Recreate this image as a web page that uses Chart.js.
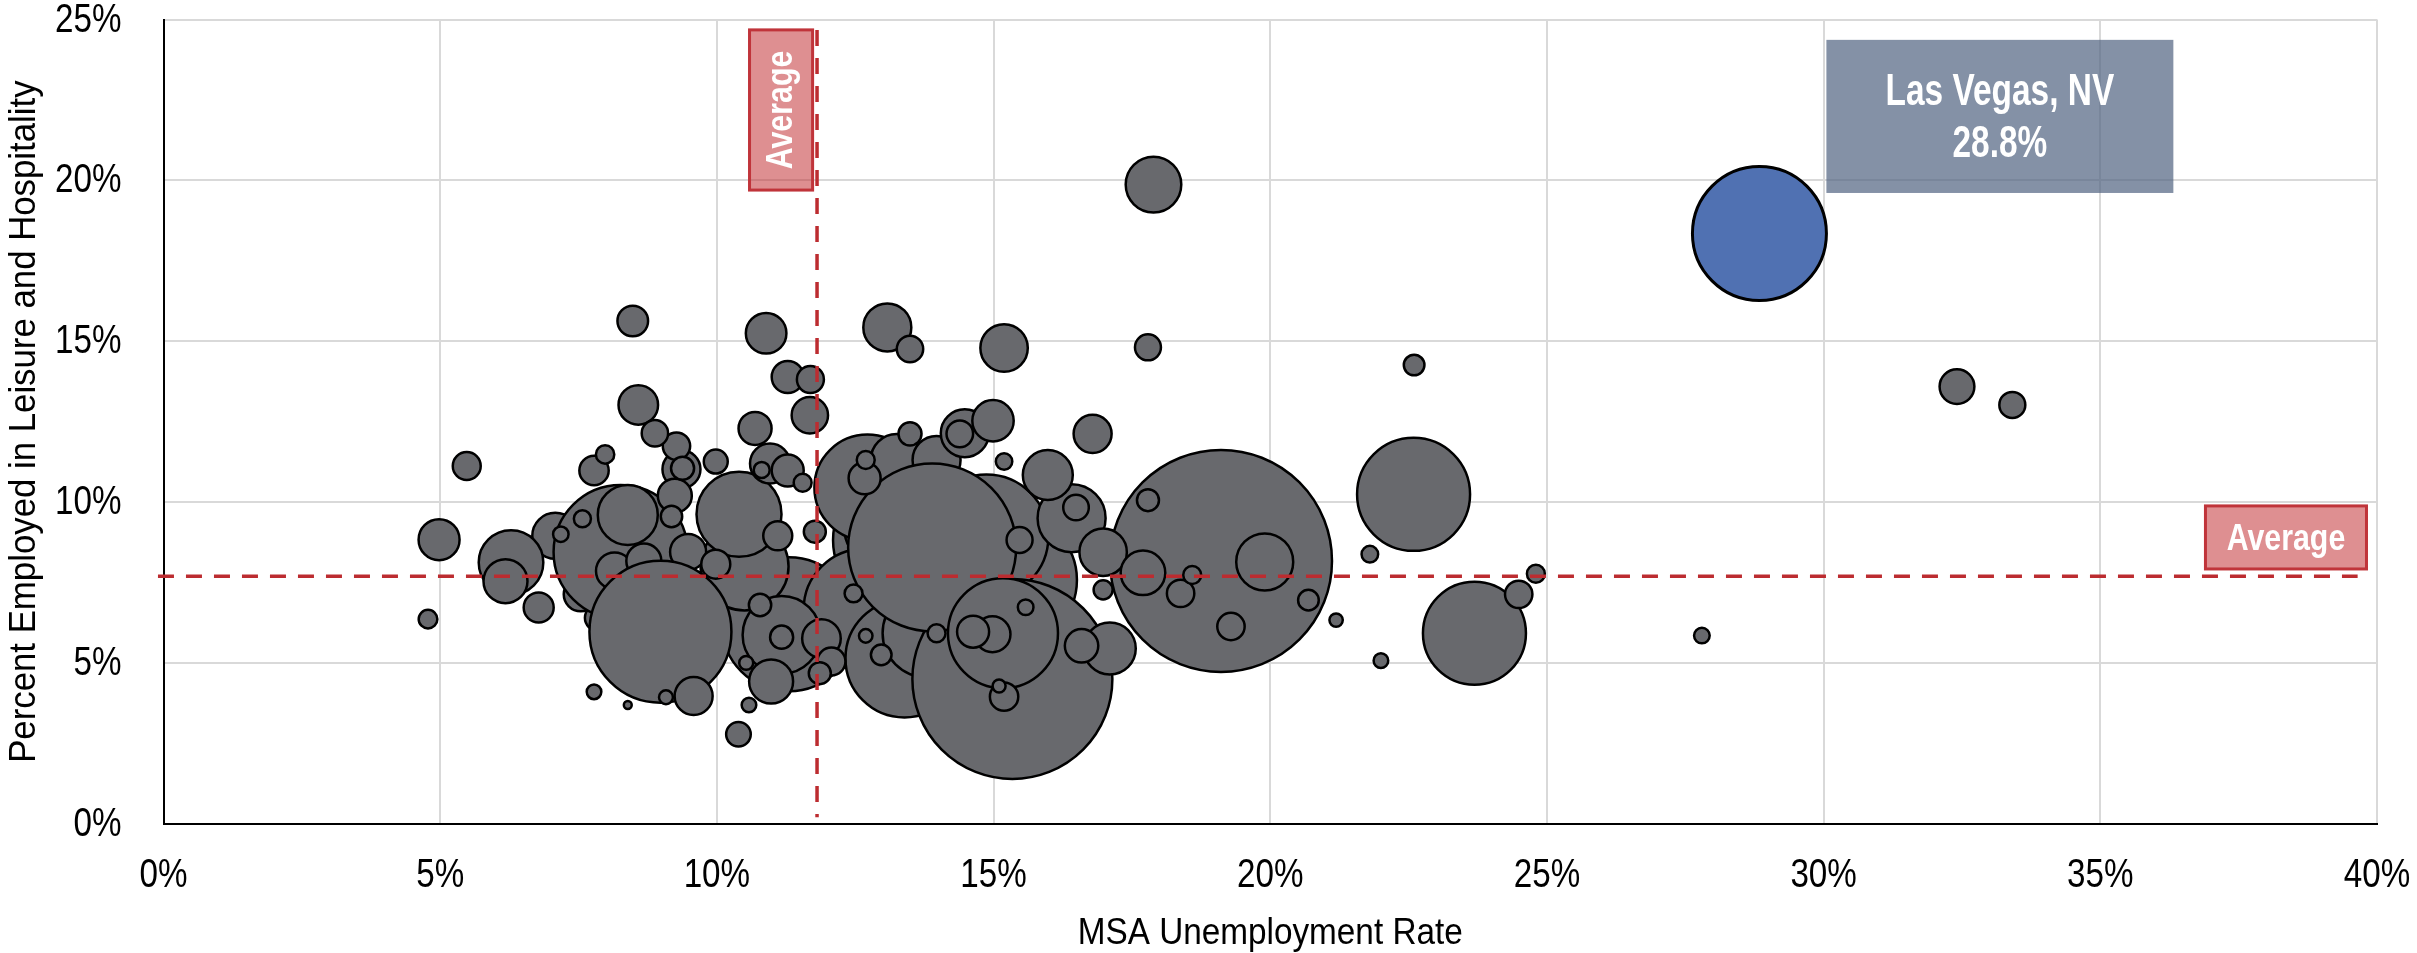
<!DOCTYPE html>
<html><head><meta charset="utf-8">
<script src="https://cdn.jsdelivr.net/npm/chart.js@4.4.1/dist/chart.umd.min.js"></script>
<style>html,body{margin:0;padding:0;background:#fff;}#wrap{width:2417px;height:953px;position:relative;}</style>
</head><body><div id="wrap"><canvas id="c" width="2417" height="953"></canvas></div>
<script>
// ---- data (MSA unemployment %, % employed in leisure & hospitality, employment in thousands) ----
const unemploymentRate = [19.11,11.3,10.5,15.35,14.87,13.31,13.35,12.72,13.25,13.97,12.67,13.39,13.79,15.34,13.89,15.17,
 7.54,7.85,7.08,8.26,8.15,8.68,9.48,8.98,9.58,
 22.59,23.69,10.40,11.17,16.41,6.28,8.39,19.9,17.89,17.1,15.98,13.08,14.48,15.19,16.98,17.7,6.18,10.98,14.99,4.98,10.89,10.96,8.58,11.89,16.79,9.36,11.68,14.98,32.41,9.24,16.59,10.69,11.28,11.28,12.67,14.63,8.48,6.78,7.78,9.98,11.1,15.19,5.48,12.07,19.29,18.38,24.49,9.27,11.69,14.39,8.88,13.49,17.79,33.41,15.47,16.49,10.39,9.98,13.49,9.38,11.17,10.78,11.77,17.79,11.86,9.18,22.6,20.69,12.97,16.98,4.78,7.98,24.80,18.59,12.47,12.69,13.97,11.55,7.57,21.80,15.19,10.81,27.80,15.58,7.18,22.0,7.78,10.58,9.08,10.53,12.69,21.19,15.1,8.39];
const leisureShare = [8.17,6.2,8.0,7.58,8.93,8.82,9.4,10.45,11.31,11.31,6.65,5.14,5.92,4.5,8.59,5.92,
 7.13,6.4,8.95,8.45,7.86,8.17,8.45,5.97,3.97,
 10.24,5.92,9.62,5.87,9.5,8.12,9.6,8.14,19.87,5.45,10.84,15.43,12.14,14.79,8.44,7.8,7.54,4.42,12.53,8.83,15.25,11.2,13.02,5.76,12.12,11.02,12.7,5.89,13.59,10.2,5.53,12.29,13.89,10.98,10.74,5.97,15.63,6.72,10.98,8.07,8.95,3.95,11.12,5.04,6.13,7.16,7.13,11.74,13.81,12.12,12.14,14.76,14.81,13.02,8.82,9.83,2.78,11.26,12.12,11.05,5.8,6.8,9.08,10.06,4.68,9.55,14.26,6.95,5.25,7.27,6.36,11.48,7.77,7.73,7.16,11.31,5.92,10.6,9.48,8.38,11.26,11.0,5.85,6.73,9.0,5.07,4.1,3.69,3.93,5.0,5.84,6.33,4.28,3.69];
const employment = [8711,3211,1406,2934,2756,3211,2500,2025,506,434,2669,2500,1406,7084,5017,2178,
 225,136,400,3211,264,238,251,3600,278,
 2296,1914,1314,1111,851,770,667,604,576,506,469,434,434,424,424,377,367,367,327,321,315,306,300,286,278,278,256,251,235,225,218,213,201,201,201,201,185,178,171,167,167,160,156,156,150,150,150,150,146,142,140,140,136,136,136,132,123,117,109,109,109,103,100,100,100,95,89,89,89,77,74,72,69,69,69,69,69,69,63,60,59,56,54,54,53,48,48,48,44,44,42,41,39,17];

const vegasUnemployment = [28.84];
const vegasLeisure = [18.35];
const vegasEmployment = [3211];
const vegasLabel = ['Las Vegas, NV', '28.8%'];

const xTickValues = [0,5,10,15,20,25,30,35,40];
const yTickValues = [0,5,10,15,20,25];
const xTitle = 'MSA Unemployment Rate';
const yTitle = 'Percent Employed in Leisure and Hospitality';
const averageUnemployment = 11.81;
const averageLeisure = 7.69;

// ---- styling ----
const FONT = "'Liberation Sans', Arial, sans-serif";
const RED = '#BC2C30';
const radiusFor = v => Math.sqrt(v) * 1.2 - 1;

const points = unemploymentRate.map((u, i) => ({x: u, y: leisureShare[i], r: radiusFor(employment[i])}));
const vegasPoints = vegasUnemployment.map((u, i) => ({x: u, y: vegasLeisure[i], r: radiusFor(vegasEmployment[i])}));

// draw text horizontally condensed (narrow face look)
function narrowText(ctx, text, x, y, font, sx, align, baseline, rot) {
  ctx.save();
  ctx.translate(x, y);
  if (rot) ctx.rotate(rot);
  ctx.scale(sx, 1);
  ctx.font = font; ctx.textAlign = align; ctx.textBaseline = baseline;
  ctx.fillText(text, 0, 0);
  ctx.restore();
}

const axisText = {
  id: 'axisText',
  afterDraw(chart) {
    const {ctx, chartArea: a, scales: {x, y}} = chart;
    ctx.save();
    ctx.fillStyle = '#000';
    x.ticks.forEach(t => narrowText(ctx, t.value + '%', x.getPixelForValue(t.value), a.bottom + 52, '40px ' + FONT, 0.83, 'center', 'middle'));
    y.ticks.forEach(t => narrowText(ctx, t.value + '%', a.left - 42, y.getPixelForValue(t.value) + 1, '40px ' + FONT, 0.83, 'right', 'middle'));
    narrowText(ctx, xTitle, (a.left + a.right) / 2, a.bottom + 120, '37px ' + FONT, 0.9, 'center', 'alphabetic');
    narrowText(ctx, yTitle, 34.5, (a.top + a.bottom) / 2, '37px ' + FONT, 0.94, 'center', 'alphabetic', -Math.PI / 2);
    ctx.restore();
  }
};

const annotations = {
  id: 'annotations',
  afterDatasetsDraw(chart) {
    const {ctx, scales: {x, y}} = chart;
    ctx.save();
    ctx.strokeStyle = RED; ctx.lineWidth = 3.5; ctx.setLineDash([16, 12]);
    const ax = x.getPixelForValue(averageUnemployment);
    ctx.beginPath(); ctx.moveTo(ax, y.getPixelForValue(24.68)); ctx.lineTo(ax, y.getPixelForValue(0.2)); ctx.stroke();
    const ay = y.getPixelForValue(averageLeisure);
    ctx.beginPath(); ctx.moveTo(x.getPixelForValue(-0.1), ay); ctx.lineTo(x.getPixelForValue(39.65), ay); ctx.stroke();
    ctx.setLineDash([]);

    const box = (x0, x1, y0, y1, fill, stroke) => {
      const px0 = x.getPixelForValue(x0), px1 = x.getPixelForValue(x1);
      const py0 = y.getPixelForValue(y0), py1 = y.getPixelForValue(y1);
      ctx.fillStyle = fill;
      ctx.fillRect(px0, py1, px1 - px0, py0 - py1);
      if (stroke) { ctx.strokeStyle = stroke; ctx.lineWidth = 3; ctx.strokeRect(px0, py1, px1 - px0, py0 - py1); }
      return {cx: (px0 + px1) / 2, cy: (py0 + py1) / 2};
    };

    let c = box(averageUnemployment - 1.22, averageUnemployment - 0.08, 19.7, 24.68, 'rgba(192,40,45,0.52)', '#C0343A');
    ctx.fillStyle = '#fff';
    narrowText(ctx, 'Average', c.cx + 1, c.cy, 'bold 37px ' + FONT, 0.82, 'center', 'middle', -Math.PI / 2);

    c = box(36.9, 39.81, 7.92, 9.88, 'rgba(192,40,45,0.52)', '#C0343A');
    ctx.fillStyle = '#fff';
    narrowText(ctx, 'Average', c.cx, c.cy + 2, 'bold 37px ' + FONT, 0.82, 'center', 'middle');

    c = box(30.05, 36.32, 19.61, 24.37, 'rgba(80,98,128,0.7)', null);
    ctx.fillStyle = '#fff';
    narrowText(ctx, vegasLabel[0], c.cx, c.cy - 24, 'bold 44px ' + FONT, 0.76, 'center', 'middle');
    narrowText(ctx, vegasLabel[1], c.cx, c.cy + 28, 'bold 44px ' + FONT, 0.76, 'center', 'middle');
    ctx.restore();
  }
};

const gridColor = ctx => (ctx.tick && ctx.tick.value === 0) ? 'rgba(0,0,0,0)' : '#D9D9D9';

new Chart(document.getElementById('c'), {
  type: 'bubble',
  data: {
    datasets: [
      {label: 'Las Vegas', data: vegasPoints, backgroundColor: '#5071B2', borderColor: '#000', borderWidth: 3},
      {label: 'MSAs', data: points, backgroundColor: '#68696D', borderColor: '#000', borderWidth: 2.5}
    ]
  },
  options: {
    responsive: false, animation: false, devicePixelRatio: 1,
    layout: {autoPadding: false, padding: {top: 19.6, right: 40, left: 0, bottom: 0}},
    plugins: {legend: {display: false}, tooltip: {enabled: false}},
    events: [],
    scales: {
      x: {
        type: 'linear', min: 0, max: 40,
        afterBuildTicks: s => { s.ticks = xTickValues.map(v => ({value: v})); },
        afterFit: s => { s.height = 129.3; },
        ticks: {display: false, padding: 0},
        grid: {color: gridColor, lineWidth: 2, drawTicks: false},
        border: {color: '#000', width: 2},
        title: {display: false}
      },
      y: {
        type: 'linear', min: 0, max: 25,
        afterBuildTicks: s => { s.ticks = yTickValues.map(v => ({value: v})); },
        afterFit: s => { s.width = 163.5; },
        ticks: {display: false, padding: 0},
        grid: {color: gridColor, lineWidth: 2, drawTicks: false},
        border: {color: '#000', width: 2},
        title: {display: false}
      }
    }
  },
  plugins: [annotations, axisText, {id: 'bg', beforeDraw(chart) { const c = chart.ctx; c.save(); c.fillStyle = '#fff'; c.fillRect(0, 0, chart.width, chart.height); c.restore(); }}]
});
</script></body></html>
